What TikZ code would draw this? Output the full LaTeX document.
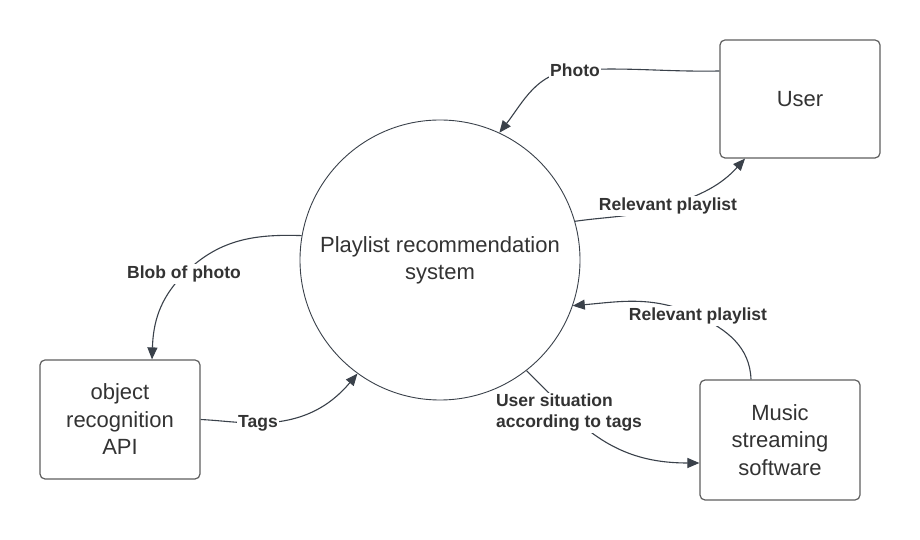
\documentclass[tikz,border=0pt]{standalone}
\usepackage{fontspec}
\setmainfont{Liberation Sans}
\usetikzlibrary{arrows.meta,calc}
\definecolor{linec}{RGB}{58,65,74}
\definecolor{boxc}{RGB}{95,95,95}
\definecolor{txtc}{RGB}{51,51,51}
\tikzset{
  procbox/.style={draw=boxc, line width=1.2pt, rounded corners=5pt, minimum width=160pt, inner sep=0pt, align=center, text=txtc, font=\fontsize{22}{27.5}\selectfont},
  proccirc/.style={draw=linec, line width=0.9pt, circle, minimum size=280pt, inner sep=0pt, align=center, text=txtc, font=\fontsize{22}{27}\selectfont},
  conn/.style={draw=linec, line width=1.1pt, -{Triangle[length=12pt,width=10pt]}},
  lbl/.style={fill=white, text=txtc, inner sep=1.5pt, font=\bfseries\fontsize{17.5}{21}\selectfont}
}
\begin{document}
\begin{tikzpicture}[x=1pt,y=1pt]
\useasboundingbox (0,0) rectangle (920,540);
\fill[white] (0,0) rectangle (920,540);
% nodes
\node[proccirc] (sys) at (440,280) {Playlist recommendation\\system};
\node[procbox, minimum height=118pt] (user) at (800,441) {User};
\node[procbox, minimum height=119pt] (obj) at (120,120.5) {object\\recognition\\API};
\node[procbox, minimum height=120pt] (music) at (780,100) {Music\\streaming\\software};
% label positions
\coordinate (cphoto) at (575,470);
\coordinate (ctop) at (668,334);
\coordinate (cblob) at (184,266);
\coordinate (ctags) at (258,117);
\coordinate (cbot) at (698,224);
\coordinate (csit) at (569,127);
% connector ends
\coordinate (ustart) at ($(user.west)+(0,28)$);
\coordinate (uend) at ($(user.south)+(-55,0)$);
\coordinate (oend) at ($(obj.north)+(32,0)$);
\coordinate (mstart) at ($(music.north)+(-29,0)$);
\coordinate (mend) at ($(music.west)+(0,-23)$);
% connectors
\draw[conn] (ustart) to[out=181,in=3] (cphoto) to[out=183,in=52] (sys.65);
\draw[conn] (sys.16) to[out=8,in=198] (ctop) to[out=18,in=228] (uend);
\draw[conn] (sys.170) to[out=178,in=45] (cblob) to[out=225,in=88] (oend);
\draw[conn] (obj.east) to[out=-3,in=180] (ctags) to[out=0,in=230] (sys.234);
\draw[conn] (mstart) to[out=92,in=-25] (cbot) to[out=155,in=5] (sys.-19);
\draw[conn] (sys.-52) -- (csit) to[out=-45,in=180] (mend);
% labels
\node[lbl] (lphoto) at (cphoto) {Photo};
\node[lbl] (ltop) at (ctop) {Relevant playlist};
\node[lbl] (lblob) at (cblob) {Blob of photo};
\node[lbl] (ltags) at (ctags) {Tags};
\node[lbl] (lbot) at (cbot) {Relevant playlist};
\node[lbl, align=left] (lsit) at (csit) {User situation\\according to tags};
\end{tikzpicture}
\end{document}
